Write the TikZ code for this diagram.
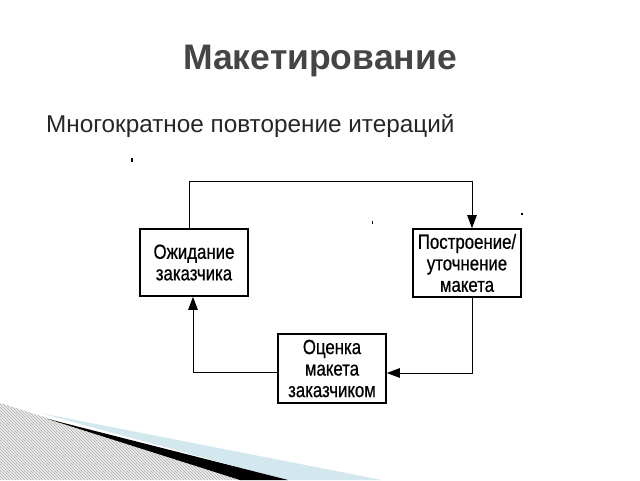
\documentclass[tikz,border=0pt]{standalone}
\usepackage{fontspec}
\setmainfont{Liberation Sans}
\newfontfamily\boxfont[FakeStretch=0.82,FakeBold=0.6]{Liberation Sans}
\usetikzlibrary{arrows.meta}
\definecolor{titlegray}{HTML}{454545}
\definecolor{swooshblue}{HTML}{D3E7EF}
\definecolor{hatchgray}{HTML}{B8B8B8}
\tikzset{
  stagebox/.style={draw=black, line width=1.6pt, minimum width=108pt, minimum height=67pt,
    inner sep=0pt, align=center, font=\boxfont\fontsize{20.5}{21.5}\selectfont},
  flow/.style={draw=black, line width=1pt, -{Triangle[length=13pt,width=9.5pt]}},
  speck/.style={fill=black}
}
\begin{document}
\begin{tikzpicture}[x=1pt,y=-1pt]
\useasboundingbox (0,0) rectangle (640,480);
% title texts
\node[font=\bfseries\fontsize{35.5}{40}\selectfont, text=titlegray, anchor=base, inner sep=0pt] (title) at (320,69) {Макетирование};
\node[font=\fontsize{24.3}{28}\selectfont, text=black!85, anchor=base west, inner sep=0pt] (sub) at (46,132) {Многократное повторение итераций};
% decoration bottom-left
\begin{scope}
  \clip (0,403) -- (243,480) -- (0,480) -- cycle;
  \fill[white!93!gray] (0,400) rectangle (260,480);
  \foreach \k in {-100,-97,...,400} {
    \draw[hatchgray, line width=0.8pt] (\k,400) -- (\k+80,480);
  }
\end{scope}
\fill[swooshblue] (40,413) -- (382,480) -- (286,480) -- cycle;
\fill[black] (48,419) -- (288,480) -- (240,480) -- cycle;
% boxes
\node[stagebox] (wait) at (194,262.5) {Ожидание\\заказчика};
\node[stagebox, minimum height=68pt] (build) at (467,263) {Построение/\\уточнение\\макета};
\node[stagebox, minimum height=69pt] (eval) at (332,368.5) {Оценка\\макета\\заказчиком};
% connector corners
\coordinate (c1) at (189,181);
\coordinate (c2) at (472,181);
\coordinate (c3) at (472,373);
\coordinate (c4) at (193,372);
\draw[flow] (wait.north -| c1) -- (c1) -- (c2) -- (build.north -| c2);
\draw[flow] (build.south -| c3) -- (c3) -- (eval.east |- c3);
\draw[flow] (eval.west |- c4) -- (c4) -- (wait.south -| c4);
% specks
\fill[speck] (130.5,158) rectangle (132.5,162);
\fill[speck] (371.5,221) rectangle (373,223.5);
\fill[speck] (521,213) rectangle (523,215);
\end{tikzpicture}
\end{document}
